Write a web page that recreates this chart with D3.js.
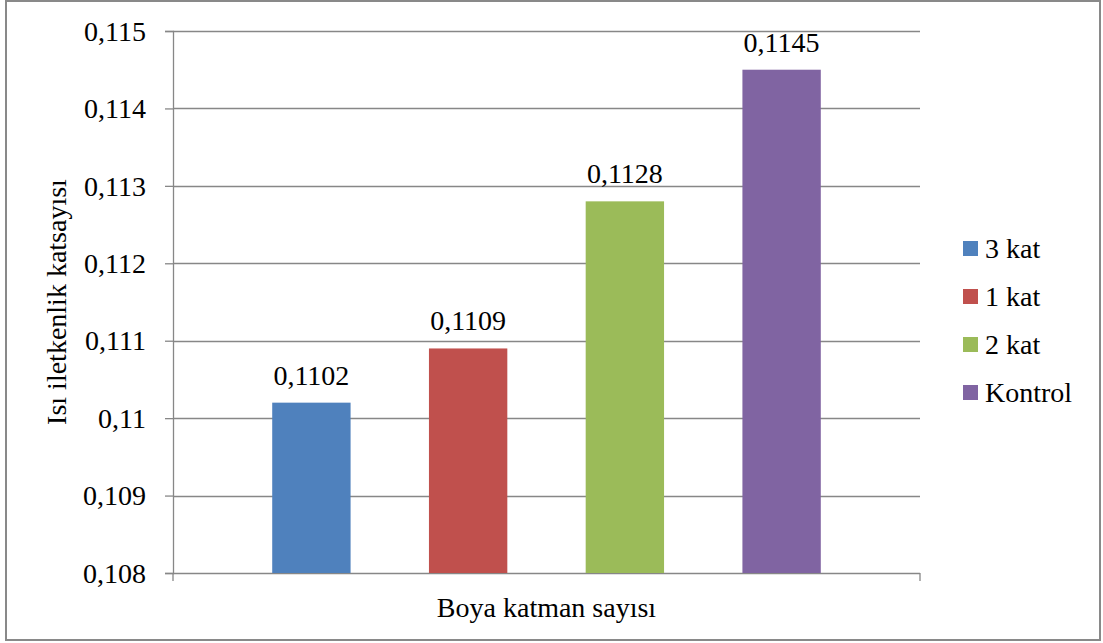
<!DOCTYPE html>
<html>
<head>
<meta charset="utf-8">
<script src="https://cdn.jsdelivr.net/npm/d3@7"></script>
<style>
  body { margin: 0; background: #fff; }
  text { font-family: "Liberation Serif", "Times New Roman", serif; fill: #000; }
</style>
</head>
<body>
<svg width="1103" height="643"></svg>
<script>
// series (one category, four bars)
var seriesNames = ["3 kat", "1 kat", "2 kat", "Kontrol"];
var seriesValues = [0.1102, 0.1109, 0.1128, 0.1145];
var seriesColors = ["#4F81BD", "#C0504D", "#9BBB59", "#8064A2"];
var yTicks = [0.108, 0.109, 0.110, 0.111, 0.112, 0.113, 0.114, 0.115];
var yTitle = "Isı iletkenlik katsayısı";
var xTitle = "Boya katman sayısı";

var svg = d3.select("svg"),
    width = +svg.attr("width"),
    height = +svg.attr("height");

var trLocale = d3.formatLocale({decimal: ",", thousands: ".", grouping: [3], currency: ["", ""]});
var fmt = trLocale.format("~g");

var plot = {left: 173, right: 920, top: 31, bottom: 573};

var x = d3.scaleBand()
    .domain(seriesNames)
    .range([plot.left, plot.right])
    .paddingInner(0.5)
    .paddingOuter(0.633);

var y = d3.scaleLinear()
    .domain([0.108, 0.115])
    .range([plot.bottom, plot.top]);

// outer frame
svg.append("rect")
    .attr("x", 6).attr("y", 1)
    .attr("width", 1094).attr("height", 639)
    .attr("fill", "#fff")
    .attr("stroke", "#898989")
    .attr("stroke-width", 2);

// gridlines
svg.append("g")
    .selectAll("line")
    .data(yTicks.slice(1))
    .enter().append("line")
      .attr("x1", plot.left).attr("x2", plot.right)
      .attr("y1", d => Math.round(y(d)) + 0.5)
      .attr("y2", d => Math.round(y(d)) + 0.5)
      .attr("stroke", "#878787")
      .attr("stroke-width", 1.3);

// y axis
var yAxis = svg.append("g")
    .attr("transform", "translate(" + plot.left + ",0)")
    .call(d3.axisLeft(y).tickValues(yTicks).tickFormat(fmt).tickSize(8).tickPadding(19));
yAxis.select(".domain").attr("stroke", "#878787").attr("stroke-width", 1.3);
yAxis.selectAll(".tick line").attr("stroke", "#878787").attr("stroke-width", 1.3);
yAxis.selectAll(".tick text")
    .attr("font-size", 28)
    .attr("font-family", "Liberation Serif")
    .attr("dy", "0.33em");

// x axis (single category, ticks at the edges)
svg.append("line")
    .attr("x1", plot.left).attr("x2", plot.right)
    .attr("y1", plot.bottom + 0.5).attr("y2", plot.bottom + 0.5)
    .attr("stroke", "#878787").attr("stroke-width", 1.3);
svg.append("g")
    .selectAll("line")
    .data([plot.left, plot.right])
    .enter().append("line")
      .attr("x1", d => d).attr("x2", d => d)
      .attr("y1", plot.bottom).attr("y2", plot.bottom + 8)
      .attr("stroke", "#878787").attr("stroke-width", 1.3);

// bars
svg.append("g")
    .selectAll("rect")
    .data(seriesValues)
    .enter().append("rect")
      .attr("x", (d, i) => x(seriesNames[i]))
      .attr("width", x.bandwidth())
      .attr("y", d => y(d))
      .attr("height", d => y(0.108) - y(d))
      .attr("fill", (d, i) => seriesColors[i]);

// data labels
svg.append("g")
    .selectAll("text")
    .data(seriesValues)
    .enter().append("text")
      .attr("x", (d, i) => x(seriesNames[i]) + x.bandwidth() / 2)
      .attr("y", d => y(d) - 18)
      .attr("text-anchor", "middle")
      .attr("font-size", 28)
      .text(d => fmt(d));

// axis titles
svg.append("text")
    .attr("transform", "translate(66," + (plot.top + plot.bottom) / 2 + ") rotate(-90)")
    .attr("text-anchor", "middle")
    .attr("font-size", 28)
    .text(yTitle);

svg.append("text")
    .attr("x", (plot.left + plot.right) / 2)
    .attr("y", 617)
    .attr("text-anchor", "middle")
    .attr("font-size", 28)
    .text(xTitle);

// legend
var legend = svg.append("g")
    .selectAll("g")
    .data(seriesNames)
    .enter().append("g")
      .attr("transform", (d, i) => "translate(963," + (241 + i * 48) + ")");
legend.append("rect")
    .attr("width", 15).attr("height", 15)
    .attr("fill", (d, i) => seriesColors[i]);
legend.append("text")
    .attr("x", 22).attr("y", 16.5)
    .attr("font-size", 28)
    .text(d => d);
</script>
</body>
</html>
